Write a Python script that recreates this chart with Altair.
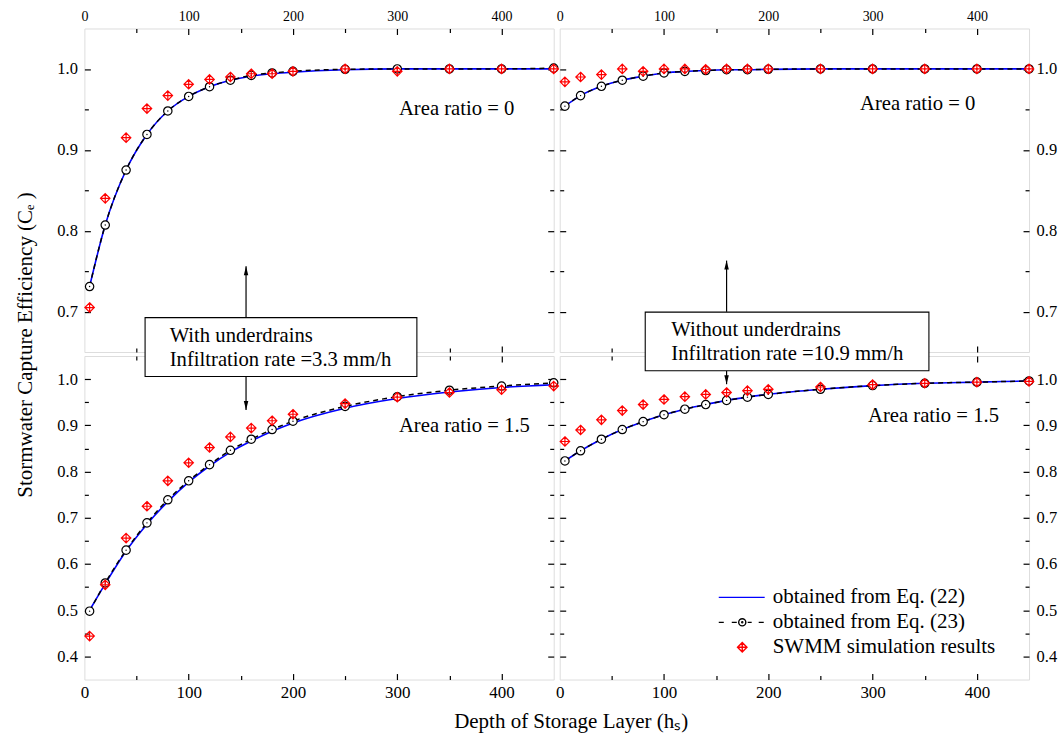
import altair as alt
import pandas as pd

# ---------------- data ----------------
x_vals = [5, 20, 40, 60, 80, 100, 120, 140, 160, 180, 200, 250, 300, 350, 400, 450]

# with underdrains, area ratio = 0  (top-left)
tl_eq22 = [0.731, 0.807, 0.875, 0.919, 0.948, 0.966, 0.978, 0.986, 0.991, 0.994, 0.996, 0.999, 1.0, 1.0, 1.0, 1.0]
tl_eq23 = [0.731, 0.807, 0.875, 0.919, 0.948, 0.966, 0.978, 0.986, 0.992, 0.995, 0.997, 0.9995, 1.0, 1.0, 1.0, 1.001]
tl_swmm = [0.705, 0.840, 0.915, 0.951, 0.967, 0.981, 0.987, 0.990, 0.994, 0.994, 0.997, 1.0, 0.997, 1.0, 1.0, 1.0]

# without underdrains, area ratio = 0  (top-right)
tr_eq22 = [0.954, 0.967, 0.9785, 0.986, 0.991, 0.995, 0.997, 0.998, 0.999, 0.999, 0.9995, 1.0, 1.0, 1.0, 1.0, 1.0]
tr_eq23 = [0.954, 0.967, 0.9785, 0.986, 0.991, 0.995, 0.997, 0.998, 0.999, 0.999, 0.9995, 1.0, 1.0, 1.0, 1.0, 1.0]
tr_swmm = [0.984, 0.990, 0.993, 1.0, 0.997, 1.0, 1.0, 0.9995, 1.0, 1.0, 1.0, 1.0, 1.0, 1.0, 1.0, 1.0]

# with underdrains, area ratio = 1.5  (bottom-left)
bl_eq22 = [0.500, 0.557, 0.628, 0.686, 0.735, 0.777, 0.812, 0.842, 0.866, 0.887, 0.905, 0.937, 0.958, 0.972, 0.982, 0.988]
bl_eq23 = [0.498, 0.559, 0.630, 0.689, 0.739, 0.780, 0.815, 0.846, 0.870, 0.891, 0.909, 0.941, 0.962, 0.976, 0.985, 0.992]
bl_swmm = [0.444, 0.555, 0.656, 0.725, 0.780, 0.819, 0.852, 0.875, 0.894, 0.910, 0.924, 0.947, 0.961, 0.971, 0.977, 0.985]

# without underdrains, area ratio = 1.5  (bottom-right)
br_eq22 = [0.823, 0.845, 0.870, 0.891, 0.908, 0.923, 0.935, 0.945, 0.954, 0.961, 0.967, 0.978, 0.986, 0.991, 0.9935, 0.996]
br_eq23 = [0.823, 0.845, 0.870, 0.891, 0.908, 0.923, 0.935, 0.945, 0.954, 0.961, 0.967, 0.978, 0.986, 0.991, 0.9935, 0.996]
br_swmm = [0.865, 0.890, 0.912, 0.932, 0.945, 0.956, 0.962, 0.967, 0.971, 0.975, 0.978, 0.983, 0.988, 0.991, 0.9935, 0.995]

x_label_vals = [0, 100, 200, 300, 400]
x_tick_vals = [50, 100, 150, 200, 250, 300, 350, 400]
top_y_label_vals = [0.7, 0.8, 0.9, 1.0]
top_y_tick_vals = [0.7, 0.75, 0.8, 0.85, 0.9, 0.95, 1.0]
bot_y_label_vals = [0.4, 0.5, 0.6, 0.7, 0.8, 0.9, 1.0]
bot_y_tick_vals = [0.4, 0.45, 0.5, 0.55, 0.6, 0.65, 0.7, 0.75, 0.8, 0.85, 0.9, 0.95, 1.0]

legend_labels = ["obtained from Eq. (22)", "obtained from Eq. (23)", "SWMM simulation results"]

box_left_lines = ["With underdrains", "Infiltration rate =3.3 mm/h"]
box_right_lines = ["Without underdrains", "Infiltration rate =10.9 mm/h"]

# ---------------- styling ----------------
FONT = "Liberation Serif"
W, H = 470, 324
BLUE, RED = "#0000ff", "#ff0000"
ANN_SIZE = 20.7
DIAMOND = "M0,-1L1,0L0,1L-1,0ZM-1,0L1,0M0,-1L0,1"
ARROW_UP = "M0,0L0.5,2L-0.5,2Z"
ARROW_DOWN = "M0,0L0.5,-2L-0.5,-2Z"
LEG_LINE = "M-2.24,0L2.14,0"
LEG_DASH = ("M-2.24,0L-1.76,0M-1.0,0L-0.52,0"
            "M-0.34,0A0.34,0.34,0,1,0,0.34,0A0.34,0.34,0,1,0,-0.34,0"
            "M-0.05,0A0.05,0.05,0,1,0,0.05,0A0.05,0.05,0,1,0,-0.05,0"
            "M0.52,0L0.9,0M1.57,0L2.05,0")
LEG_DIAM = "M0,-0.45L0.45,0L0,0.45L-0.45,0ZM-0.45,0L0.45,0M0,-0.45L0,0.45"

X_MAJOR = "datum.value % 100 === 0"
Y_MAJOR = "abs(datum.value*10 - round(datum.value*10)) < 0.000001"


def label_x_axis(orient):
    return alt.Axis(orient=orient, values=x_label_vals, ticks=False, tickSize=0, domain=False,
                    grid=False, title=None, labelFont=FONT, labelColor="black",
                    labelFontSize=14 if orient == "top" else 17,
                    labelPadding=5, labelFlush=False, labelOverlap=False, format="d")


def label_y_axis(orient, vals):
    return alt.Axis(orient=orient, values=vals, ticks=False, tickSize=0, domain=False,
                    grid=False, title=None, labelFont=FONT, labelColor="black",
                    labelFontSize=16.5, labelPadding=7, labelOverlap=False, format=".1f")


def tick_x_axis(orient):
    return alt.Axis(orient=orient, offset=-H, values=x_tick_vals, labels=False, domain=False,
                    grid=False, title=None, tickColor="black", tickWidth=1.2, zindex=0,
                    tickSize={"condition": {"test": X_MAJOR, "value": 6}, "value": 4})


def tick_y_axis(orient, vals):
    return alt.Axis(orient=orient, offset=-W, values=vals, labels=False, domain=False,
                    grid=False, title=None, tickColor="black", tickWidth=1.2, zindex=0,
                    tickSize={"condition": {"test": Y_MAJOR, "value": 6}, "value": 4})


def panel(eq22, eq23, swmm, ydom, ylab, ytick, xorient, yorient, ratio, ratio_xy, extra=()):
    df = pd.DataFrame({"x": x_vals, "eq22": eq22, "eq23": eq23, "swmm": swmm})
    xs = alt.Scale(domain=[0, 450], nice=False, zero=False)
    ys = alt.Scale(domain=ydom, nice=False, zero=False)
    base = alt.Chart(df)

    def X(axis=None):
        return alt.X("x:Q", scale=xs, axis=axis)

    def Y(field, axis=None):
        return alt.Y(field + ":Q", scale=ys, axis=axis)

    blue = base.mark_line(color=BLUE, strokeWidth=1.6, interpolate="monotone").encode(
        x=X(label_x_axis(xorient)), y=Y("eq22", label_y_axis(yorient, ylab)))
    m1 = base.mark_point(opacity=0, size=1).encode(
        x=X(tick_x_axis("bottom")), y=Y("eq22", tick_y_axis("right", ytick)))
    m2 = base.mark_point(opacity=0, size=1).encode(
        x=X(tick_x_axis("top")), y=Y("eq22", tick_y_axis("left", ytick)))
    dashed = base.mark_line(color="black", strokeWidth=1.5, strokeDash=[5, 4],
                            interpolate="monotone").encode(x=X(), y=Y("eq23"))
    circles = base.mark_point(shape="circle", filled=True, fill="white", stroke="black",
                              strokeWidth=1.2, size=70, opacity=1).encode(x=X(), y=Y("eq23"))
    dots = base.mark_point(shape="circle", filled=True, color="black", size=2,
                           opacity=1).encode(x=X(), y=Y("eq23"))
    diam = base.mark_point(shape=DIAMOND, filled=False, color=RED, strokeWidth=1.2,
                           size=90, opacity=1).encode(x=X(), y=Y("swmm"))
    rdf = pd.DataFrame({"x": [ratio_xy[0]], "y": [ratio_xy[1]], "t": [ratio]})
    rtext = alt.Chart(rdf).mark_text(align="left", baseline="alphabetic", font=FONT,
                                     fontSize=ANN_SIZE, color="black").encode(
        x=alt.X("x:Q", scale=xs, axis=None), y=alt.Y("y:Q", scale=ys, axis=None), text="t:N")
    layers = [blue, m1, m2, dashed, circles, dots, diam, rtext]
    for fn in extra:
        layers.append(fn(xs, ys))
    return alt.layer(*layers).resolve_axis(x="independent", y="independent").properties(
        width=W, height=H)


def arrow(x, y0, y1, head):
    def fn(xs, ys):
        d = pd.DataFrame({"x": [x], "y0": [y0], "y1": [y1]})
        rule = alt.Chart(d).mark_rule(color="black", strokeWidth=1.2).encode(
            x=alt.X("x:Q", scale=xs, axis=None), y=alt.Y("y0:Q", scale=ys, axis=None), y2="y1:Q")
        tip = alt.Chart(d).mark_point(shape=head, filled=True, color="black", size=81,
                                      opacity=1, strokeWidth=0).encode(
            x=alt.X("x:Q", scale=xs, axis=None), y=alt.Y("y1:Q", scale=ys, axis=None))
        return alt.layer(rule, tip)
    return fn


def text_box(x0, x1, y0, y1, tx, ty, lines):
    def fn(xs, ys):
        rd = pd.DataFrame({"x0": [x0], "x1": [x1], "y0": [y0], "y1": [y1]})
        rect = alt.Chart(rd).mark_rect(fill="white", stroke="black", strokeWidth=1.1).encode(
            x=alt.X("x0:Q", scale=xs, axis=None), x2="x1:Q",
            y=alt.Y("y0:Q", scale=ys, axis=None), y2="y1:Q")
        td = pd.DataFrame({"x": [tx, tx], "y": ty, "t": lines})
        txt = alt.Chart(td).mark_text(align="left", baseline="alphabetic", font=FONT,
                                      fontSize=ANN_SIZE, color="black").encode(
            x=alt.X("x:Q", scale=xs, axis=None), y=alt.Y("y:Q", scale=ys, axis=None), text="t:N")
        return alt.layer(rect, txt)
    return fn


def legend_layer(xs, ys):
    ld = pd.DataFrame({"series": legend_labels, "x": [0, 0, 0], "y": [0.5, 0.5, 0.5]})
    leg = alt.Legend(title=None, orient="none", legendX=647.3, legendY=558.2, padding=0,
                     labelFont=FONT, labelFontSize=21, labelColor="black", labelOffset=19,
                     symbolSize=441, symbolStrokeWidth=1.4, rowPadding=3, labelLimit=400)
    return alt.Chart(ld).transform_filter("false").mark_point(
        filled=False, opacity=1, strokeWidth=1.4, size=441).encode(
        x=alt.X("x:Q", scale=xs, axis=None), y=alt.Y("y:Q", scale=ys, axis=None),
        color=alt.Color("series:N", scale=alt.Scale(domain=legend_labels,
                                                    range=[BLUE, "black", RED]), legend=leg),
        shape=alt.Shape("series:N", scale=alt.Scale(domain=legend_labels,
                                                    range=[LEG_LINE, LEG_DASH, LEG_DIAM]),
                        legend=leg))


tl = panel(tl_eq22, tl_eq23, tl_swmm, [0.65, 1.05], top_y_label_vals, top_y_tick_vals,
           "top", "left", "Area ratio = 0", (301.6, 0.9427),
           extra=[arrow(155, 0.693, 0.756, ARROW_UP)])
tr = panel(tr_eq22, tr_eq23, tr_swmm, [0.65, 1.05], top_y_label_vals, top_y_tick_vals,
           "top", "right", "Area ratio = 0", (287.9, 0.9486),
           extra=[arrow(160, 0.6997, 0.763, ARROW_UP)])
bl = panel(bl_eq22, bl_eq23, bl_swmm, [0.35, 1.05], bot_y_label_vals, bot_y_tick_vals,
           "bottom", "left", "Area ratio = 1.5", (301.6, 0.8857),
           extra=[arrow(155, 1.0058, 0.933, ARROW_DOWN),
                  text_box(58.2, 318.8, 1.0058, 1.133, 81.8, [1.080, 1.029], box_left_lines)])
br = panel(br_eq22, br_eq23, br_swmm, [0.35, 1.05], bot_y_label_vals, bot_y_tick_vals,
           "bottom", "right", "Area ratio = 1.5", (295.6, 0.908),
           extra=[arrow(160, 1.018, 0.989, ARROW_DOWN),
                  text_box(82, 354, 1.018, 1.145, 107, [1.093, 1.0416], box_right_lines),
                  legend_layer])

grid = alt.concat(
    tl, tr, bl, br,
    columns=2,
    spacing={"row": 4, "column": 6},
    bounds="flush",
    title=alt.TitleParams("Stormwater Capture Efficiency (Cₑ )", orient="left", anchor="middle",
                          font=FONT, fontSize=21, fontWeight="normal", color="black",
                          offset=20, dx=10),
)

chart = alt.vconcat(
    grid,
    title=alt.TitleParams("Depth of Storage Layer (hₛ)", orient="bottom", anchor="middle",
                          font=FONT, fontSize=21, fontWeight="normal", color="black",
                          offset=10, dx=35),
).configure_view(stroke="black", strokeWidth=1.5).configure(
    background="white", padding={"left": 14.5, "top": 8, "right": 2, "bottom": 2})

chart.save("out.html", embed_options={"renderer": "svg", "actions": False})
